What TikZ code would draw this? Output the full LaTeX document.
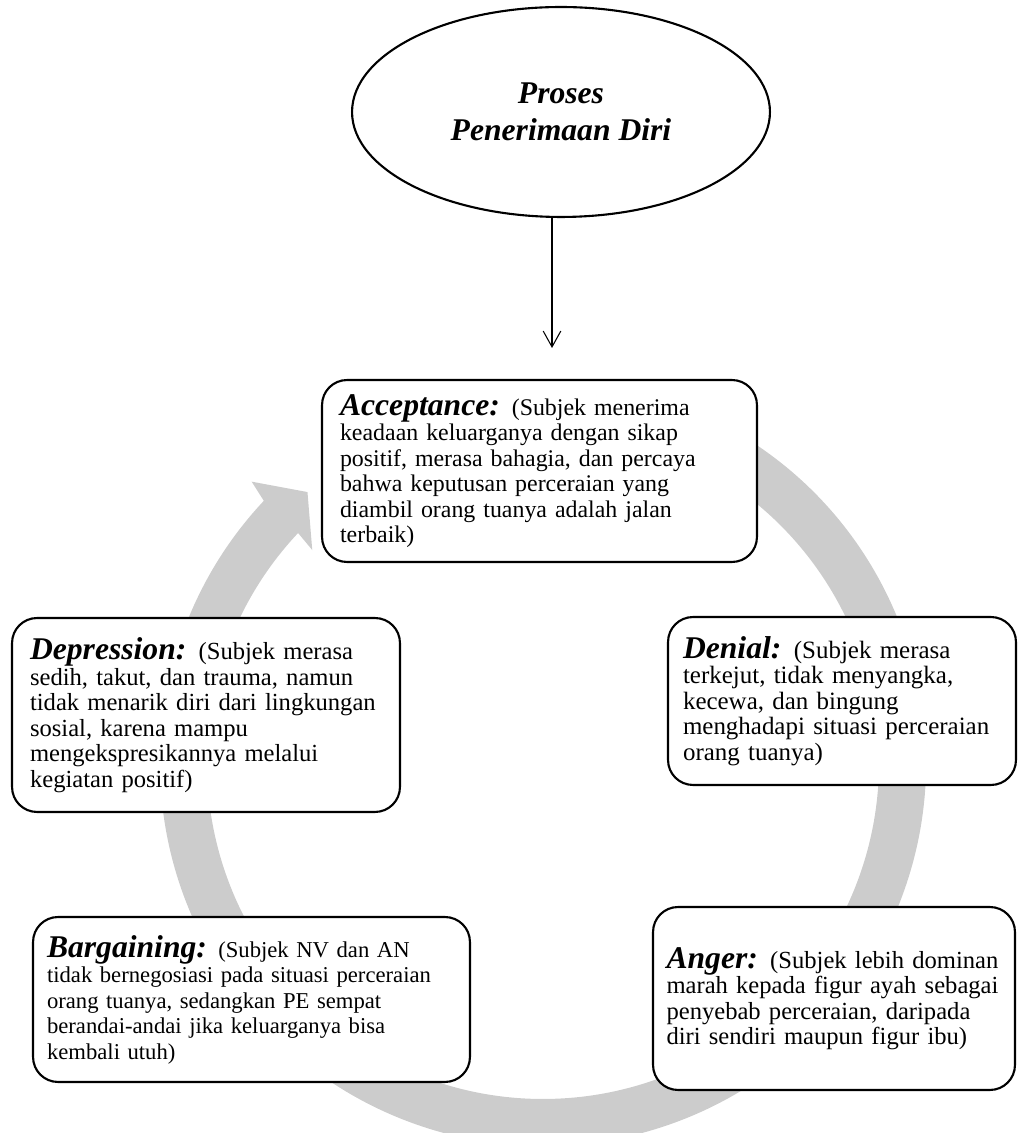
\documentclass[tikz,border=0pt]{standalone}
\usepackage{fontspec}
\setmainfont{Liberation Serif}
\usetikzlibrary{shapes.geometric,arrows.meta}
\definecolor{ringgray}{gray}{0.8}
\def\ringin{336}
\def\ringout{383}
\def\ringstart{65}
\def\ringend{-223.2}
\newcommand{\stagefont}[1]{\fontsize{#1}{14.5}\selectfont\hyphenpenalty 10000\relax}
\newcommand{\stagehd}[1]{{\fontsize{18}{20}\selectfont\bfseries\itshape #1}}

\begin{document}
\begin{tikzpicture}[x=0.02cm, y=0.02cm,
                    stage/.style={draw, fill=white, line width=1.2pt, rounded corners=0.5cm,
                                  align=left, inner xsep=0.3cm, inner ysep=4pt, font=\stagefont{#1}},
                    stage/.default=13.8,
                    arrowline/.style={line width=0.6pt, -{Straight Barb[length=9pt,width=10pt]}}]
    \useasboundingbox (0,0) rectangle (1018,1133);
    % grey cycle behind the stages
    \begin{scope}[shift={(543,370)}]
      \fill[ringgray] (\ringstart:\ringout) arc[start angle=\ringstart, end angle=\ringend, radius=\ringout]
          -- (-224:405) -- (-229:359) -- (-222.7:314) -- (\ringend:\ringin)
          arc[start angle=\ringend, end angle=\ringstart, radius=\ringin] -- cycle;
    \end{scope}
    %
    \node[draw, ellipse, line width=1.2pt, minimum width=8.36cm, minimum height=4.2cm, inner sep=0pt,
          align=center, font=\fontsize{18}{21}\selectfont\bfseries\itshape] (proc) at (561,1021)
        {Proses\\Penerimaan Diri};
    \node[stage=13.6, inner xsep=0.36cm, text width=7.98cm, minimum height=3.64cm] (accept) at (539.5,662)
        {\stagehd{Acceptance:} (Subjek menerima\\ keadaan keluarganya dengan sikap\\ positif, merasa bahagia, dan percaya\\ bahwa keputusan perceraian yang\\ diambil orang tuanya adalah jalan\\ terbaik)};
    \node[stage=14.2, text width=6.36cm, minimum height=3.36cm] (denial) at (842,432)
        {\stagehd{Denial:} (Subjek merasa\\ terkejut, tidak menyangka,\\ kecewa, dan bingung\\ menghadapi situasi perceraian\\ orang tuanya)};
    \node[stage=14, inner xsep=0.36cm, text width=7.04cm, minimum height=3.88cm] (depress) at (206,418)
        {\stagehd{Depression:} (Subjek merasa\\ sedih, takut, dan trauma, namun\\ tidak menarik diri dari lingkungan\\ sosial, karena mampu\\ mengekspresikannya melalui\\ kegiatan positif)};
    \node[stage=12.9, inner xsep=0.28cm, text width=8.18cm, minimum height=3.30cm] (bargain) at (251.5,133.5)
        {\stagehd{Bargaining:} (Subjek NV dan AN\\ tidak bernegosiasi pada situasi perceraian\\ orang tuanya, sedangkan PE sempat\\ berandai-andai jika keluarganya bisa\\ kembali utuh)};
    \node[stage=14, inner xsep=0.27cm, text width=6.70cm, minimum height=3.66cm] (anger) at (834,134.5)
        {\stagehd{Anger:} (Subjek lebih dominan\\ marah kepada figur ayah sebagai\\ penyebab perceraian, daripada\\ diri sendiri maupun figur ibu)};
    %
    \coordinate (tip) at (552,785);
    \draw[arrowline] (proc.south -| tip) -- (tip);
\end{tikzpicture}
\end{document}
